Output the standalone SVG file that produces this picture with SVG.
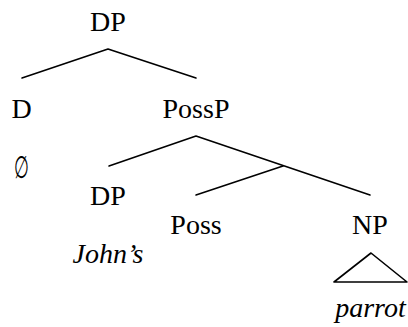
<svg xmlns="http://www.w3.org/2000/svg" width="408" height="327" viewBox="0 0 408 327">
<style>
text{font-family:"Liberation Serif","Times New Roman",serif;font-size:28px;fill:#000;text-anchor:middle}
.it{font-style:italic}
.e{stroke:#000;stroke-width:1.6;fill:none;stroke-linecap:round;stroke-linejoin:round}
</style>
<rect width="408" height="327" fill="#fff"/>
<g id="connectors">
<polyline class="e" points="22,78 108,49 196,78"/>
<polyline class="e" points="109,166 196,136 370,195"/>
<line class="e" x1="196" y1="195" x2="283" y2="166"/>
<polygon class="e" points="371,253 334,282 407,282"/>
</g>
<g id="n-dp-top"><text x="108" y="31">DP</text></g>
<g id="n-d"><text x="21.5" y="118">D</text></g>
<g id="n-possp"><text x="196" y="118">PossP</text></g>
<g id="n-empty"><text transform="translate(21.5,178) scale(0.55,1)" style="font-family:'DejaVu Serif',serif;font-size:31px">∅</text></g>
<g id="n-dp"><text x="108" y="205">DP</text></g>
<g id="n-poss"><text x="196" y="234">Poss</text></g>
<g id="n-np"><text x="370" y="234">NP</text></g>
<g id="n-johns"><text class="it" x="108" y="263">John’s</text></g>
<g id="n-parrot"><text class="it" x="370.5" y="317">parrot</text></g>
</svg>
